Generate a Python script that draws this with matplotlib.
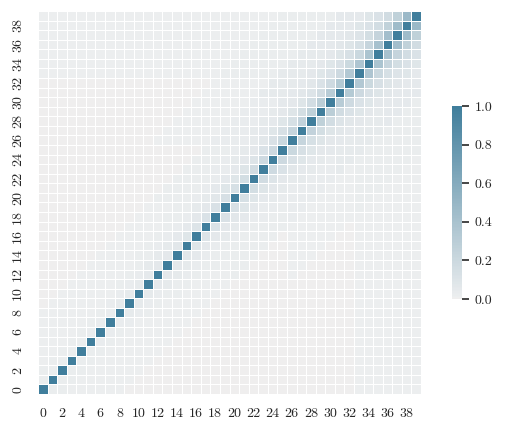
import numpy as np
import matplotlib
matplotlib.use("Agg")
import matplotlib.pyplot as plt
import seaborn as sns
from matplotlib.colors import ListedColormap

plt.rcParams['font.family'] = ['cmr10', 'DejaVu Serif']
plt.rcParams['axes.formatter.use_mathtext'] = True

n_vars = 40
labels = list(range(n_vars))

# correlation to neighbour at lag d, for rows i = d .. 39
lag1 = [0.02,0.02,0.02,0.02,0.02,0.03,0.03,0.03,0.04,0.04,0.04,0.05,0.06,0.06,0.07,0.08,0.10,0.11,0.12,0.13,
        0.14,0.15,0.17,0.18,0.19,0.21,0.23,0.25,0.27,0.29,0.31,0.33,0.35,0.37,0.39,0.41,0.43,0.46,0.48]
lag2 = [0.02,0.02,0.02,0.02,0.02,0.02,0.02,0.03,0.03,0.03,0.03,0.04,0.04,0.04,0.05,0.05,0.06,0.06,0.07,0.08,
        0.08,0.09,0.10,0.11,0.12,0.13,0.14,0.15,0.16,0.17,0.18,0.19,0.20,0.21,0.23,0.24,0.26,0.27]
lag3 = [0.01,0.01,0.01,0.01,0.01,0.01,0.01,0.01,0.02,0.02,0.02,0.02,0.03,0.03,0.03,0.03,0.04,0.04,0.05,0.05,
        0.05,0.06,0.06,0.07,0.08,0.08,0.09,0.09,0.10,0.11,0.11,0.12,0.13,0.14,0.15,0.16,0.17]
lag4 = [0.01,0.01,0.01,0.01,0.01,0.01,0.01,0.01,0.01,0.01,0.02,0.02,0.02,0.02,0.02,0.02,0.03,0.03,0.03,0.03,
        0.04,0.04,0.04,0.05,0.05,0.06,0.06,0.07,0.07,0.08,0.08,0.09,0.09,0.10,0.11,0.11]
lag5 = [0.01,0.01,0.01,0.01,0.01,0.01,0.01,0.01,0.01,0.01,0.01,0.01,0.01,0.02,0.02,0.02,0.02,0.02,0.03,0.03,
        0.03,0.03,0.04,0.04,0.04,0.05,0.05,0.05,0.06,0.06,0.06,0.07,0.07,0.08,0.08]
# per-row level (row = larger index) for lags 6-8, lags 9-14 and lags >= 15
mid_lag = [0.01]*20 + [0.02]*6 + [0.03]*5 + [0.04]*5 + [0.05]*4
tail_lag = [0.0]*26 + [0.01]*7 + [0.02]*7
far_lag = [0.0]*33 + [0.01]*7

lag_tables = {1: lag1, 2: lag2, 3: lag3, 4: lag4, 5: lag5}

corr = np.eye(n_vars)
for i in range(n_vars):
    for j in range(i):
        d = i - j
        if d in lag_tables:
            v = lag_tables[d][i - d]
        elif d <= 8:
            v = mid_lag[i]
        elif d <= 14:
            v = tail_lag[i]
        else:
            v = far_lag[i]
        corr[i, j] = v
        corr[j, i] = v

base = sns.diverging_palette(230, 20, as_cmap=True)
t = np.linspace(0.0, 1.0, 256)
cols = base(0.5 - 0.5 * t)
cols[:, :3] *= (1 - 0.012 * (1 - t))[:, None]
cmap = ListedColormap(cols)

W, H = 506, 432
fig = plt.figure(figsize=(W/100, H/100), dpi=100)
ax = fig.add_axes([38/W, (H-394)/H, 383/W, 383/H])
cax = fig.add_axes([452/W, (H-299)/H, 10/W, 193/H])

sns.heatmap(corr, cmap=cmap, vmin=0, vmax=1, linewidths=0.5, linecolor='white',
            xticklabels=2, yticklabels=2, ax=ax, cbar_ax=cax)
ax.invert_yaxis()
ax.set_aspect('auto')
ax.tick_params(axis='both', length=0, labelsize=10, colors='#262626', pad=10)
for tl in ax.get_yticklabels():
    tl.set_rotation(90)
    tl.set_va('center')
for tl in ax.get_xticklabels():
    tl.set_rotation(0)

cax.set_yticks([0.0, 0.2, 0.4, 0.6, 0.8, 1.0])
cax.set_yticklabels(['0.0', '0.2', '0.4', '0.6', '0.8', '1.0'])
cax.tick_params(axis='y', length=5, width=1.2, color='#262626', labelsize=10, colors='#262626', pad=4)
for s in cax.spines.values():
    s.set_visible(False)

fig.savefig('out.png', dpi=100)
